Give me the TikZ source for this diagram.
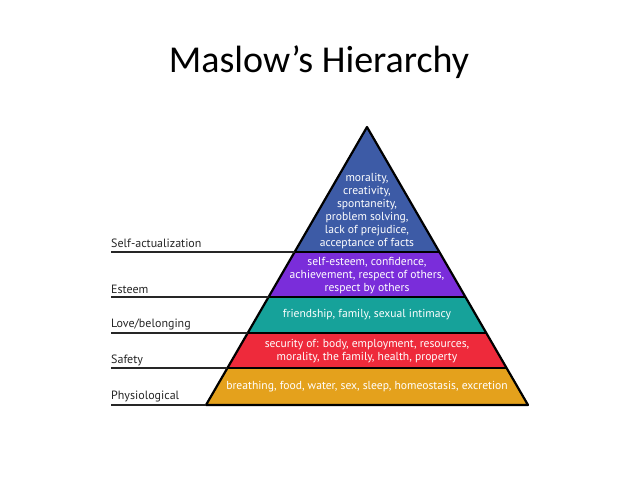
\documentclass[tikz,border=0pt]{standalone}
\usepackage{fontspec}
\setmainfont{PT Sans}
\newfontfamily\titlefont{Carlito}
\usetikzlibrary{calc}
\definecolor{cblue}{HTML}{3D5BA6}
\definecolor{cpurple}{HTML}{7A2DDA}
\definecolor{cteal}{HTML}{16A29A}
\definecolor{cred}{HTML}{EE2A3B}
\definecolor{corange}{HTML}{E4A11C}
\tikzset{
  band/.style={line width=2.2pt, draw=black, line join=round},
  bandtext/.style={text=white, font=\fontsize{11.6}{13}\selectfont, align=center, inner sep=0pt},
  lbl/.style={text=black!85, font=\fontsize{12}{13}\selectfont, anchor=west, inner sep=0pt},
  ruler/.style={line width=1.6pt, draw=black!85},
}
\begin{document}
\begin{tikzpicture}[x=1pt,y=-1pt]
\useasboundingbox (0,0) rectangle (638,479);
\fill[white] (0,0) rectangle (638,479);
\node[font=\titlefont\fontsize{38}{40}\selectfont] (title) at (319,62) {Maslow’s Hierarchy};
% pyramid geometry
\coordinate (A) at (367,127);
\coordinate (BL) at (206,405);
\coordinate (BR) at (528,405);
\coordinate (L1) at ($(A)!0.4496!(BL)$);
\coordinate (R1) at ($(A)!0.4496!(BR)$);
\coordinate (L2) at ($(A)!0.6115!(BL)$);
\coordinate (R2) at ($(A)!0.6115!(BR)$);
\coordinate (L3) at ($(A)!0.7410!(BL)$);
\coordinate (R3) at ($(A)!0.7410!(BR)$);
\coordinate (L4) at ($(A)!0.8669!(BL)$);
\coordinate (R4) at ($(A)!0.8669!(BR)$);
% bands
\fill[cblue] (A) -- (R1) -- (L1) -- cycle;
\fill[cpurple] (L1) -- (R1) -- (R2) -- (L2) -- cycle;
\fill[cteal] (L2) -- (R2) -- (R3) -- (L3) -- cycle;
\fill[cred] (L3) -- (R3) -- (R4) -- (L4) -- cycle;
\fill[corange] (L4) -- (R4) -- (BR) -- (BL) -- cycle;
\draw[band] (A) -- (BR) -- (BL) -- cycle;
\draw[band] (L1) -- (R1);
\draw[band] (L2) -- (R2);
\draw[band] (L3) -- (R3);
\draw[band] (L4) -- (R4);
% band texts
\node[bandtext] (t1) at (367,211) {morality,\\creativity,\\spontaneity,\\problem solving,\\lack of prejudice,\\acceptance of facts};
\node[bandtext] (t2) at (367,276) {self-esteem, confidence,\\achievement, respect of others,\\respect by others};
\node[bandtext] (t3) at (367,315) {friendship, family, sexual intimacy};
\node[bandtext] (t4) at (367,351) {security of: body, employment, resources,\\morality, the family, health, property};
\node[bandtext] (t5) at (367,387) {breathing, food, water, sex, sleep, homeostasis, excretion};
% left rulers
\coordinate (S1) at (111,252);
\coordinate (S2) at (111,297);
\coordinate (S3) at (111,333);
\coordinate (S4) at (111,368);
\coordinate (S5) at (111,405);
\draw[ruler] (S1) -- (L1);
\draw[ruler] (S2) -- (L2);
\draw[ruler] (S3) -- (L3);
\draw[ruler] (S4) -- (L4);
\draw[ruler] (S5) -- (BL);
% labels
\node[lbl] (n1) at (111,243) {Self-actualization};
\node[lbl] (n2) at (111,289) {Esteem};
\node[lbl] (n3) at (111,324) {Love/belonging};
\node[lbl] (n4) at (111,360) {Safety};
\node[lbl] (n5) at (111,397) {Physiological};
\end{tikzpicture}
\end{document}
